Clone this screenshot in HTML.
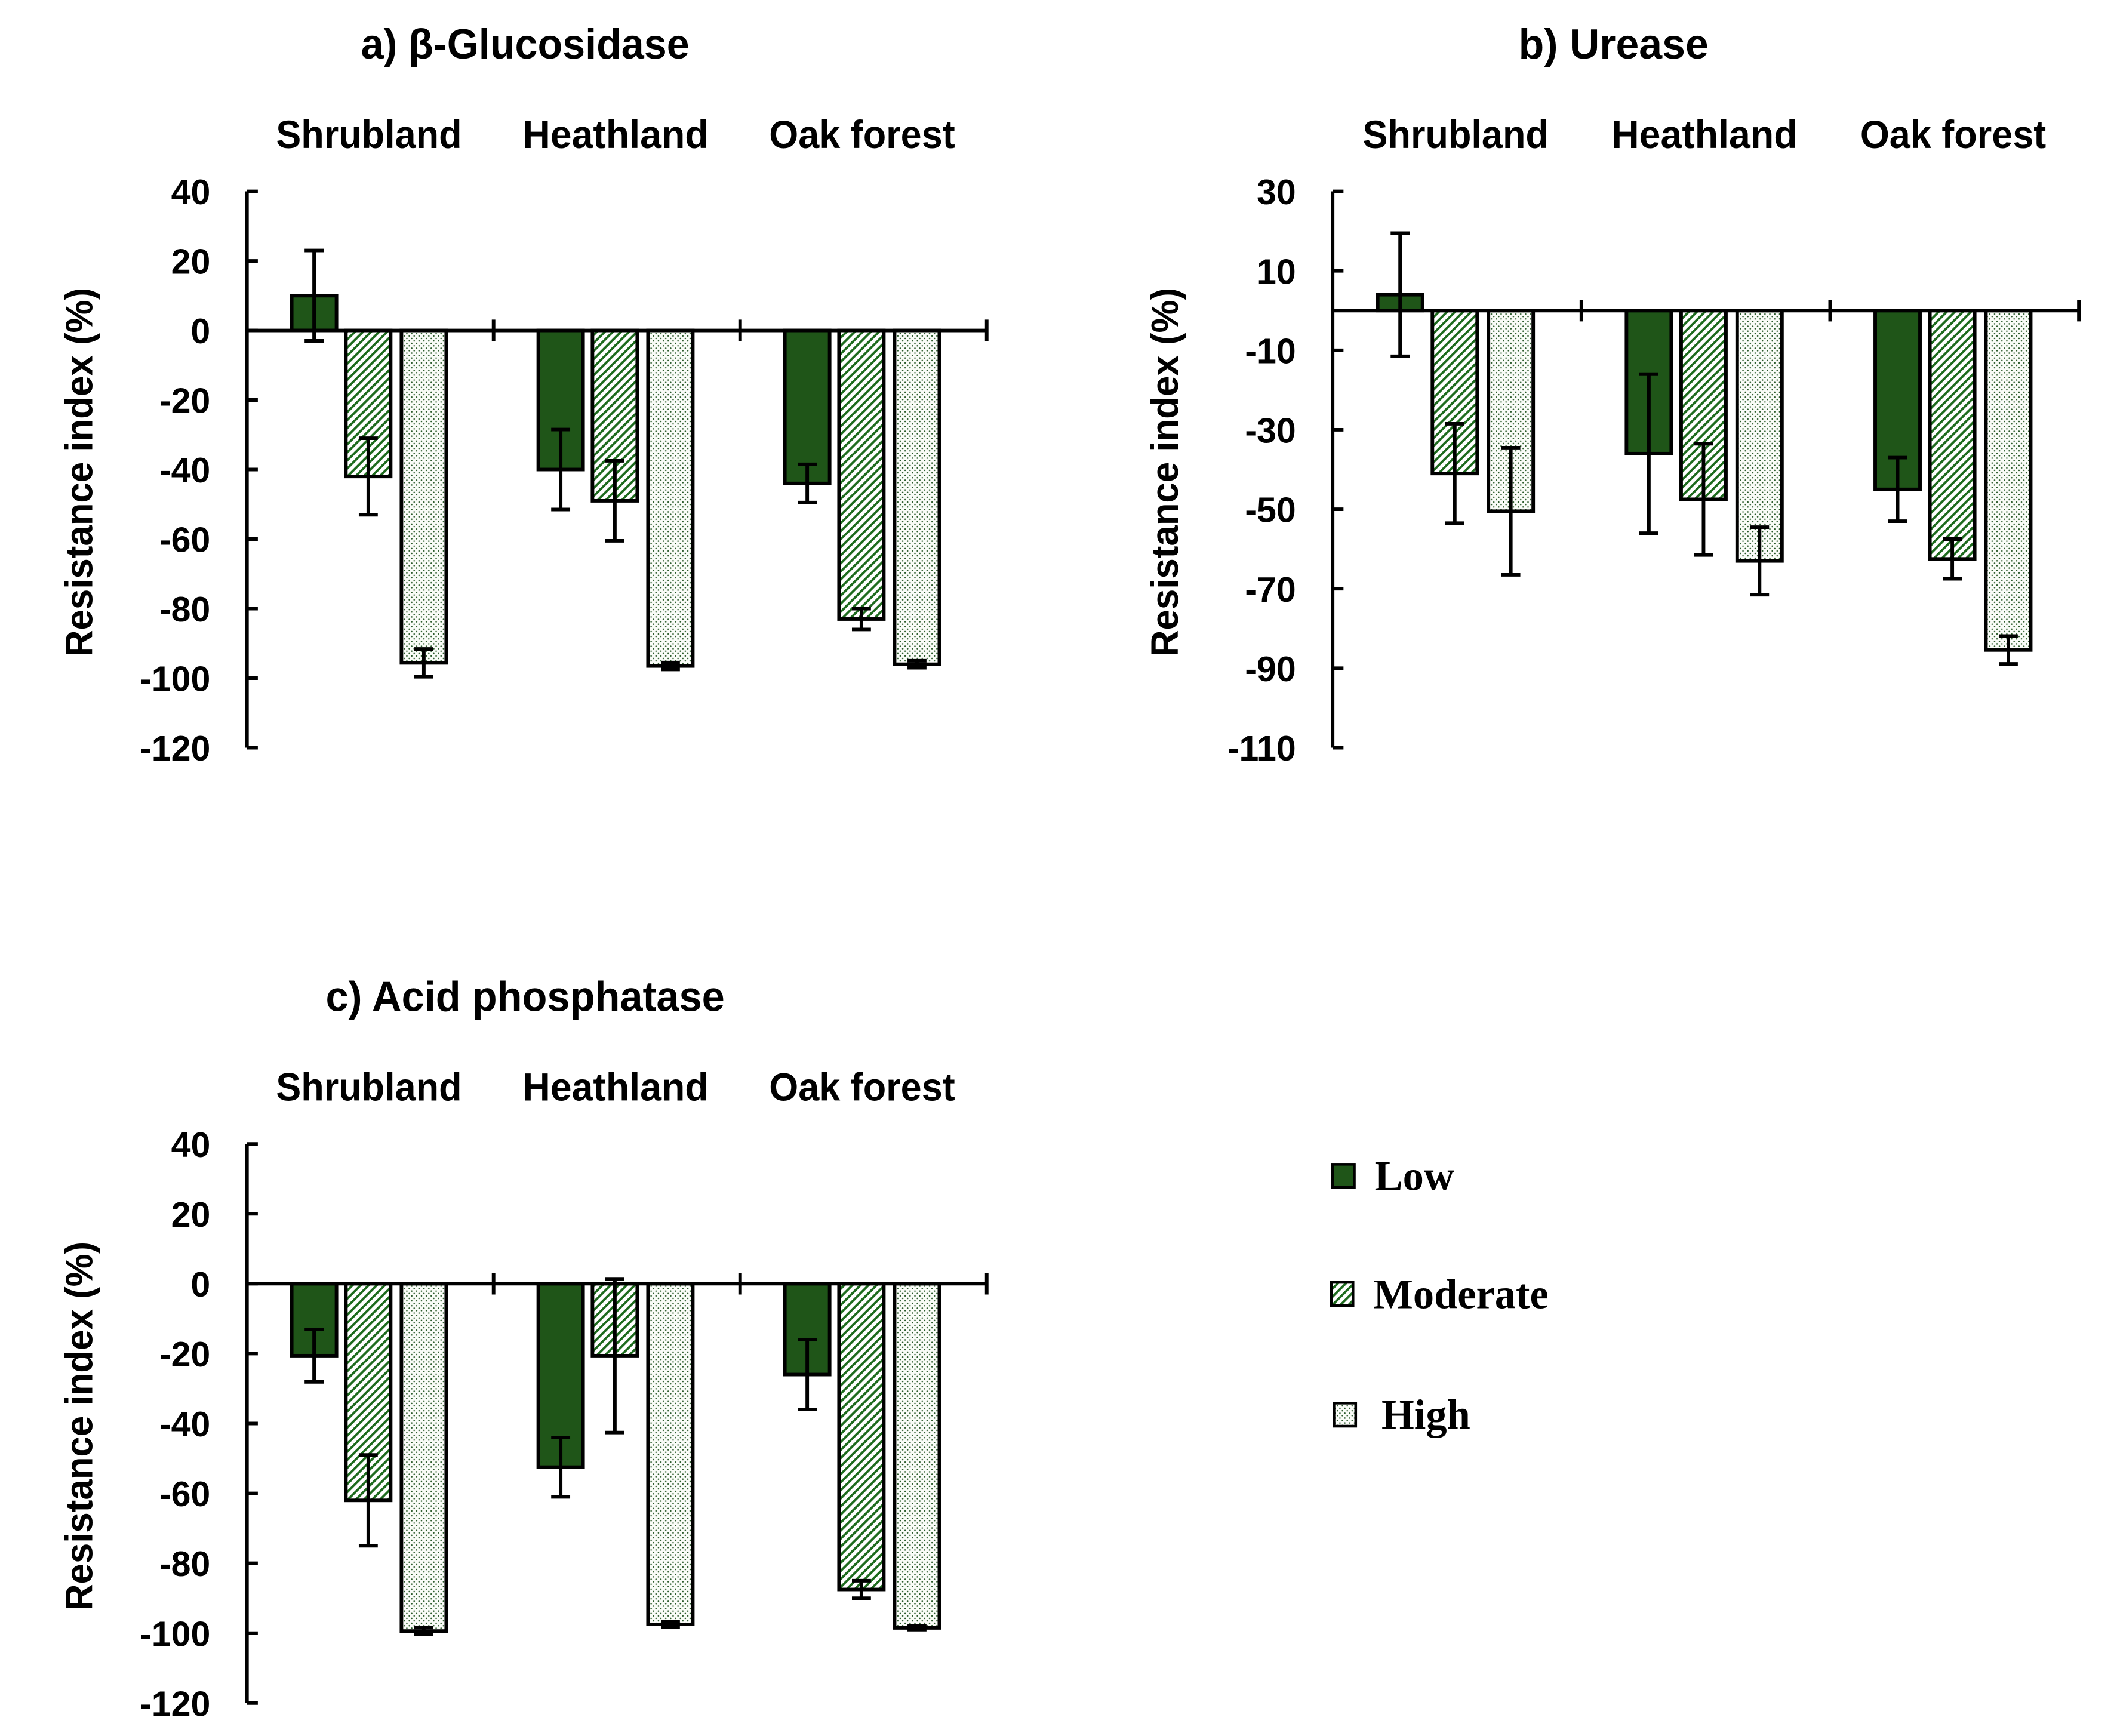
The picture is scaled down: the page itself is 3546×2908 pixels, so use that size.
<!DOCTYPE html>
<html><head><meta charset="utf-8"><style>
html,body{margin:0;padding:0;background:#fff;}
svg{display:block;}
text{font-family:"Liberation Sans",sans-serif;font-weight:bold;fill:#000;}
.leg{font-family:"Liberation Serif",serif;font-weight:bold;}
</style></head><body>
<svg id="fig" width="3546" height="2908" viewBox="0 0 1560 1279.3" xmlns="http://www.w3.org/2000/svg">
<defs>
<pattern id="hatch" patternUnits="userSpaceOnUse" width="4.2" height="4.2" patternTransform="rotate(45)">
<rect width="4.2" height="4.2" fill="#fff"/><rect x="0" y="0" width="1.7" height="4.2" fill="#1e6b1e"/>
</pattern>
<pattern id="dots" patternUnits="userSpaceOnUse" width="3.6" height="3.6">
<rect width="3.6" height="3.6" fill="#fafcf8"/><circle cx="1" cy="1" r="0.55" fill="#2a5a2a"/><circle cx="2.8" cy="2.8" r="0.55" fill="#2a5a2a"/>
</pattern>
</defs>
<g id="legend">
<g><rect x="982" y="858" width="16" height="17" fill="#1f5518" stroke="#000" stroke-width="2"/><text class="leg" x="1013" y="877" font-size="31">Low</text></g>
<g><rect x="981" y="945" width="16" height="17" fill="url(#hatch)" stroke="#000" stroke-width="2"/><text class="leg" x="1012" y="964" font-size="31">Moderate</text></g>
<g><rect x="983" y="1034" width="16" height="17" fill="url(#dots)" stroke="#000" stroke-width="2"/><text class="leg" x="1018" y="1053" font-size="31">High</text></g>
</g>
</svg>
<script>
const categories = ["Shrubland","Heathland","Oak forest"];
const seriesNames = ["Low","Moderate","High"];
// panel a
const aLow = [10,-40,-44], aLowErr = [13,11.5,5.5];
const aMod = [-42,-49,-83], aModErr = [11,11.5,3];
const aHigh = [-95.6,-96.5,-96], aHighErr = [4,1,1];
const aTicks = [40,20,0,-20,-40,-60,-80,-100,-120];
// panel b
const bLow = [4,-36,-45], bLowErr = [15.5,20,8];
const bMod = [-41,-47.5,-62.5], bModErr = [12.5,14,5];
const bHigh = [-50.5,-63,-85.4], bHighErr = [16,8.5,3.5];
const bTicks = [30,10,-10,-30,-50,-70,-90,-110];
// panel c
const cLow = [-20.6,-52.5,-26], cLowErr = [7.5,8.5,10];
const cMod = [-62,-20.6,-87.5], cModErr = [13,22,2.5];
const cHigh = [-99.4,-97.5,-98.5], cHighErr = [1,0.7,0.5];
const cTicks = [40,20,0,-20,-40,-60,-80,-100,-120];

const NS = "http://www.w3.org/2000/svg";
const svg = document.getElementById('fig');
function mk(tag, attrs, parent){const e=document.createElementNS(NS,tag);for(const k in attrs)e.setAttribute(k,attrs[k]);(parent||svg).appendChild(e);return e;}
const fills = ["#1f5518","url(#hatch)","url(#dots)"];
const SW = 2.6;

function panel(p){
  const g = mk('g',{});
  
  
  const ymax=p.ticks[0], ymin=p.ticks[p.ticks.length-1];
  const y = v => p.top + (ymax-v)/(ymax-ymin)*(p.bottom-p.top);
  const gw = p.gw;
  const t = mk('text',{x:p.titleX,y:p.titleY,'font-size':31,'text-anchor':'middle',textLength:p.titleLen,lengthAdjust:'spacingAndGlyphs'},g); t.textContent=p.title;
  
  
  categories.forEach((c,i)=>{
    const ct = mk('text',{x:p.x0+gw*i+gw/2-1,y:p.catY,'font-size':29,'text-anchor':'middle',textLength:137,lengthAdjust:'spacingAndGlyphs'},g); ct.textContent=c;
    
    
  });
  const ax = mk('line',{x1:p.x0,y1:p.top,x2:p.x0,y2:p.bottom,stroke:'#000','stroke-width':SW},g);
  
  
  p.ticks.forEach(v=>{
    mk('line',{x1:p.x0,y1:y(v),x2:p.x0+8,y2:y(v),stroke:'#000','stroke-width':SW},g);
    const tl = mk('text',{x:p.x0-27,y:y(v)+9.5,'font-size':26,'text-anchor':'end'},g); tl.textContent=v;
    
    
  });
  const yt = mk('text',{x:0,y:0,'font-size':28,'text-anchor':'middle',textLength:272,lengthAdjust:'spacingAndGlyphs',transform:`translate(${p.x0-114},${(p.top+p.bottom)/2+2}) rotate(-90)`},g);
  yt.textContent='Resistance index (%)';
  
  
  const sets=[[p.low,p.lowE],[p.mod,p.modE],[p.high,p.highE]];
  const offs=[33,73,114], bw=33;
  sets.forEach((s,si)=>{
    s[0].forEach((v,ci)=>{
      const bx=p.x0+gw*ci+offs[si]*gw/182;
      const y0=y(0), yv=y(v);
      const r = mk('rect',{x:bx,y:Math.min(y0,yv),width:bw,height:Math.abs(yv-y0),fill:fills[si],stroke:'#000','stroke-width':SW},g);
      
      
      const e=s[1][ci], cx=bx+bw/2;
      const eb = mk('path',{d:`M${cx},${y(v+e)}V${y(v-e)}M${cx-7},${y(v+e)}H${cx+7}M${cx-7},${y(v-e)}H${cx+7}`,stroke:'#000','stroke-width':SW,fill:'none'},g);
      
      
    });
  });
  const y0=y(0);
  const xa = mk('line',{x1:p.x0,y1:y0,x2:p.x0+3*gw,y2:y0,stroke:'#000','stroke-width':SW},g);
  
  
  for(let i=1;i<=3;i++) mk('line',{x1:p.x0+gw*i,y1:y0-8,x2:p.x0+gw*i,y2:y0+8,stroke:'#000','stroke-width':SW},g);
}
panel({id:'panel-a-glucosidase',title:'a) β-Glucosidase',titleX:387,titleLen:242,x0:182,gw:181.7,top:141,bottom:551,titleY:43,catY:109,ticks:aTicks,low:aLow,lowE:aLowErr,mod:aMod,modE:aModErr,high:aHigh,highE:aHighErr});
panel({id:'panel-b-urease',title:'b) Urease',titleX:1189,titleLen:140,x0:982,gw:183.3,top:141,bottom:551,titleY:43,catY:109,ticks:bTicks,low:bLow,lowE:bLowErr,mod:bMod,modE:bModErr,high:bHigh,highE:bHighErr});
panel({id:'panel-c-acid-phosphatase',title:'c) Acid phosphatase',titleX:387,titleLen:294,x0:182,gw:181.7,top:843,bottom:1255,titleY:745,catY:811,ticks:cTicks,low:cLow,lowE:cLowErr,mod:cMod,modE:cModErr,high:cHigh,highE:cHighErr});
</script>
</body></html>
